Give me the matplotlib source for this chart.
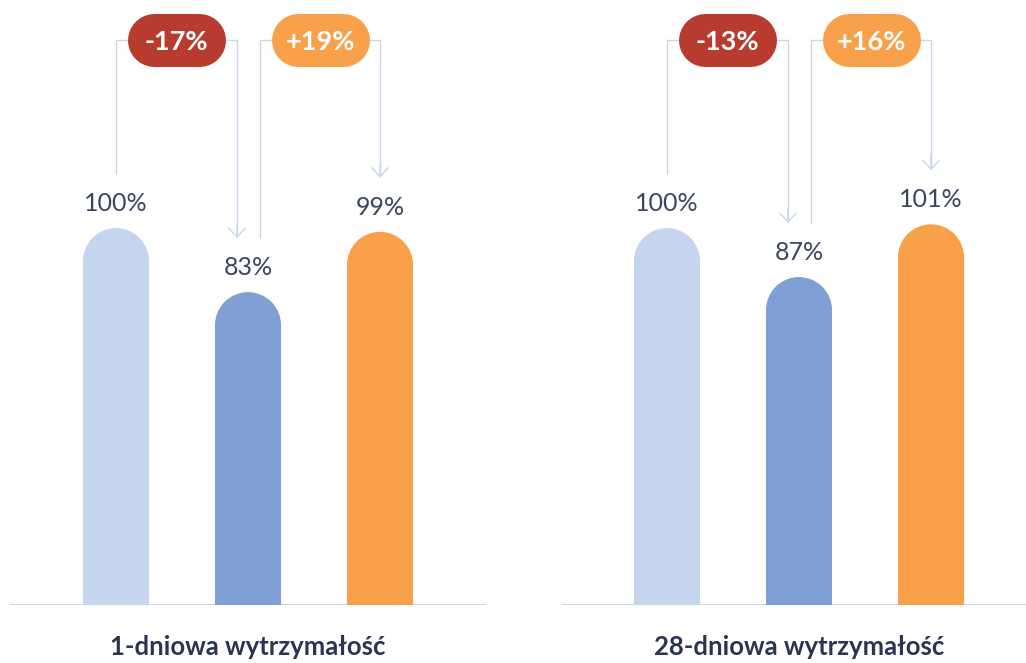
import matplotlib
matplotlib.use("Agg")
import matplotlib.pyplot as plt
from matplotlib.patches import Rectangle, Ellipse

# data
titles = ['1-dniowa wytrzymałość', '28-dniowa wytrzymałość']
strength_1d = [100, 83, 99]
strength_28d = [100, 87, 101]
bar_colors = ['#C6D5EE', '#7FA0D4', '#F9A04B']
badge_colors = ['#B83B2F', '#F9A04B']

line_col = '#C8D6EE'
text_col = '#2B3452'
YMAX = 160.5

plt.rcParams['font.family'] = ['Lato', 'DejaVu Sans']

fig = plt.figure(figsize=(10.26, 6.63), dpi=100)
ax1 = fig.add_axes([10 / 1026, 58 / 663, 476 / 1026, 605 / 663])
ax2 = fig.add_axes([562 / 1026, 58 / 663, 464 / 1026, 605 / 663])


def draw_panel(ax, vals, title, xlim):
    ax.set_xlim(*xlim)
    ax.set_ylim(0, YMAX)
    ax.axis('off')
    sx = 132.0          # px per category unit
    sy = 605.0 / YMAX   # px per percent
    r = 33 / sy

    # baseline
    ax.axhline(0, color=line_col, lw=1.6, zorder=1)

    for i, v in enumerate(vals):
        ax.add_patch(Rectangle((i - 0.25, 0), 0.5, v - r, color=bar_colors[i], lw=0, zorder=2))
        ax.add_patch(Ellipse((i, v - r), 0.5, 2 * r, color=bar_colors[i], lw=0, zorder=2))
        ax.annotate(f'{v}%', (i, v), xytext=(0, 17 * 0.72), textcoords='offset points',
                    ha='center', va='baseline', fontsize=18, fontweight='normal',
                    color='#3A4560')

    # change brackets
    changes = [round((vals[1] - vals[0]) / vals[0] * 100),
               round((vals[2] - vals[1]) / vals[1] * 100)]
    top = (605 - 40) / sy
    pairs = [(0, 1 - 11 / sx), (1 + 12 / sx, 2)]
    starts = [vals[0], vals[1]]
    ends = [vals[1], vals[2]]
    for k, ((xa, xb), c) in enumerate(zip(pairs, changes)):
        ya = starts[k] + 54 / sy
        yb = ends[k] + 54 / sy
        ax.plot([xa, xa, xb, xb], [ya, top, top, yb + 1], color=line_col, lw=1.0,
                solid_joinstyle='miter', zorder=1)
        ax.annotate('', xy=(xb, yb), xytext=(xb, yb + 15 / sy),
                    arrowprops=dict(arrowstyle='->,head_length=0.65,head_width=0.6',
                                    color=line_col, lw=1.0, shrinkA=0, shrinkB=0))
        xm = (xa + xb) / 2
        half = 22.5 / sx
        ax.plot([xm - half, xm + half], [top, top], color=badge_colors[k],
                lw=53 * 0.72, solid_capstyle='round', zorder=3)
        ax.text(xm, top, f'{c:+d}%', ha='center', va='center_baseline', fontsize=19.5,
                fontweight='bold', color='white', zorder=4)

    ax.text(1, -(645 - 605) / 605, title, transform=ax.get_xaxis_transform(),
            ha='center', va='center_baseline', fontsize=18.5, fontweight='bold', color=text_col)


draw_panel(ax1, strength_1d, titles[0], (-106 / 132, 2 + 106 / 132))
draw_panel(ax2, strength_28d, titles[1], (-105 / 132, 2 + 95 / 132))

fig.savefig('out.png', dpi=100)
